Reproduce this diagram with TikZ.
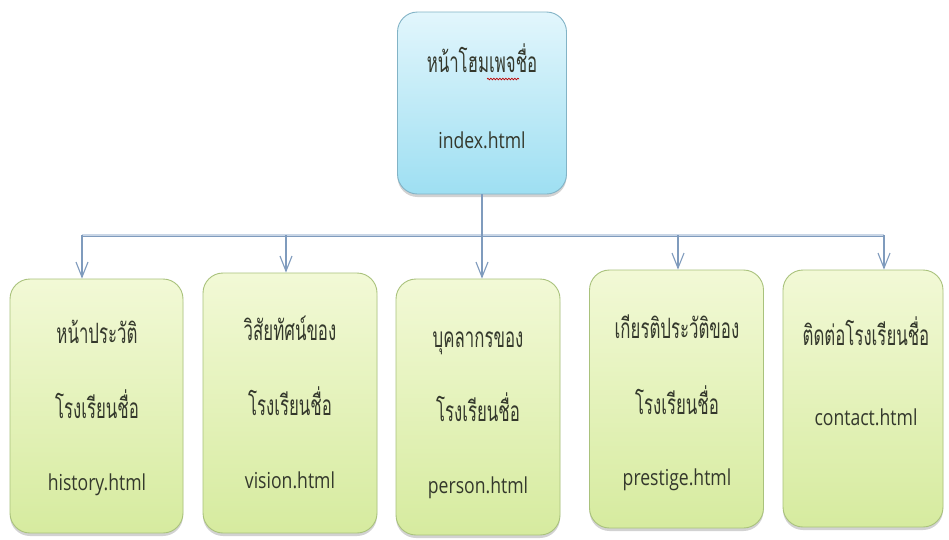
\documentclass[tikz,border=0pt]{standalone}
\usepackage{fontspec}
\setmainfont{Open Sans}[FakeStretch=0.8]
\newfontfamily\thai[Script=Thai,FakeStretch=0.6]{Loma}
\usetikzlibrary{arrows.meta,shadows,decorations.pathmorphing}

\definecolor{linkblue}{HTML}{7F9BBD}
\definecolor{barlight}{HTML}{C9D6E6}
\definecolor{inktext}{HTML}{34382C}
\definecolor{greentop}{HTML}{F2F9D6}
\definecolor{greenbot}{HTML}{D6EB9F}
\definecolor{greenedge}{HTML}{A9C27C}
\definecolor{cyantop}{HTML}{E2F6FC}
\definecolor{cyanbot}{HTML}{9EDFF2}
\definecolor{cyanedge}{HTML}{82B3C6}

\tikzset{
  pagebox/.style={rounded corners=20pt, line width=0.9pt, inner sep=0pt,
    drop shadow={opacity=0.35, shadow xshift=0pt, shadow yshift=-3pt}},
  homebox/.style={pagebox, draw=cyanedge, top color=cyantop, bottom color=cyanbot},
  subbox/.style={pagebox, draw=greenedge, top color=greentop, bottom color=greenbot},
  thaitext/.style={inner sep=0pt, anchor=base, text=inktext, font=\thai\fontsize{28}{32}\selectfont},
  filetext/.style={inner sep=0pt, anchor=base, text=inktext, font=\fontsize{22}{26}\selectfont},
  link/.style={draw=linkblue, line width=1.2pt,
    -{Straight Barb[length=15pt,width=12pt,line width=1.1pt]}},
  busbar/.style={draw=linkblue, line width=0.8pt, double=barlight, double distance=1.4pt}
}

\begin{document}
\begin{tikzpicture}[x=1pt,y=-1pt]
\useasboundingbox[fill=white] (0,0) rectangle (949,539);

% home page
\node[homebox, minimum width=169pt, minimum height=182pt] (home) at (482,103) {};
\node[thaitext] (homeTh) at (482,72) {หน้าโฮมเพจชื่อ};
\node[filetext] (homeFile) at (482,148) {index.html};
\draw[red!75!black, line width=0.7pt, decorate,
  decoration={snake, amplitude=0.8pt, segment length=3pt}]
  (487,79) -- (519,79);

% second-level pages
\node[subbox, minimum width=173pt, minimum height=254pt] (hist) at (96.5,406) {};
\node[subbox, minimum width=174pt, minimum height=260pt] (vis)  at (290,403) {};
\node[subbox, minimum width=164pt, minimum height=256pt] (pers) at (478,407) {};
\node[subbox, minimum width=174pt, minimum height=258pt] (pres) at (676.5,399) {};
\node[subbox, minimum width=160pt, minimum height=257pt] (cont) at (863,398.5) {};

\node[thaitext] (histA) at (97,343) {หน้าประวัติ};
\node[thaitext] (histB) at (97,418) {โรงเรียนชื่อ};
\node[filetext] (histC) at (97,490) {history.html};

\node[thaitext] (visA) at (290,340) {วิสัยทัศน์ของ};
\node[thaitext] (visB) at (290,415) {โรงเรียนชื่อ};
\node[filetext] (visC) at (290,488) {vision.html};

\node[thaitext] (persA) at (478,347) {บุคลากรของ};
\node[thaitext] (persB) at (478,421) {โรงเรียนชื่อ};
\node[filetext] (persC) at (478,493) {person.html};

\node[thaitext] (presA) at (677,338) {เกียรติประวัติของ};
\node[thaitext] (presB) at (677,414) {โรงเรียนชื่อ};
\node[filetext] (presC) at (677,485) {prestige.html};

\node[thaitext] (contA) at (866,345) {ติดต่อโรงเรียนชื่อ};
\node[filetext] (contB) at (866,425) {contact.html};

% distribution bar
\coordinate (j1) at (82,235);
\coordinate (j2) at (286,235);
\coordinate (j4) at (678,235);
\coordinate (j5) at (884,235);
\draw[busbar] (j1) -- (j5);

% connectors
\draw[link] (home.south) -- (home.south |- pers.north);
\draw[link] (j1) -- (j1 |- hist.north);
\draw[link] (j2) -- (j2 |- vis.north);
\draw[link] (j4) -- (j4 |- pres.north);
\draw[link] (j5) -- (j5 |- cont.north);
\end{tikzpicture}
\end{document}
